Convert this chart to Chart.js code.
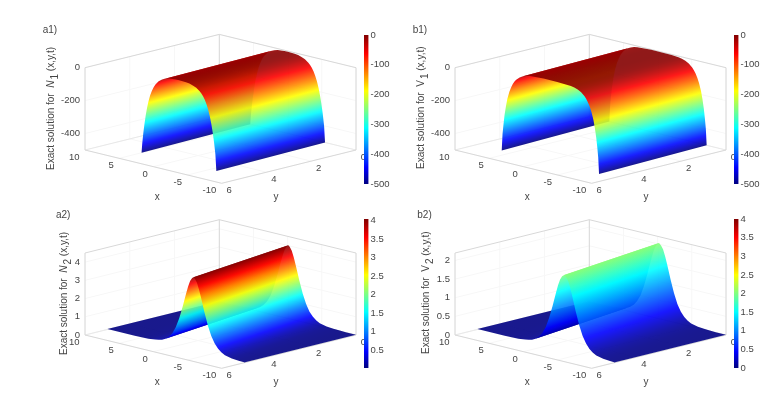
<!DOCTYPE html>
<html><head><meta charset="utf-8">
<style>html,body{margin:0;padding:0;background:#fff;width:781px;height:393px;overflow:hidden}canvas{position:absolute}</style>
<script src="https://cdn.jsdelivr.net/npm/chart.js@4"></script>
</head><body>
<script>
// ---- values ----
const xTicks = [10, 5, 0, -5, -10];
const yTicks = [6, 4, 2, 0];
const zTicksN1 = [0, -200, -400];
const zTicksN2 = [0, 1, 2, 3, 4];
const zTicksV2 = [0, 0.5, 1, 1.5, 2];
const barTicksLog = [0, -100, -200, -300, -400, -500];
const barTicksPeakN = [0.5, 1, 1.5, 2, 2.5, 3, 3.5, 4];
const barTicksPeakV = [0, 0.5, 1, 1.5, 2, 2.5, 3, 3.5, 4];

// cross-section of each surface at its near end (y = 5): x and height
const n1X = [5,4.9,4.75,4.6,4.4,4.2,4,3.75,3.5,3.25,3,2.5,2,1.5,1,.5,0,-.5,-1,-1.5,-2,-2.5,-3,-3.5,-3.75,-4,-4.25,-4.5,-4.75,-5,-5.2,-5.4,-5.6,-5.8,-5.94];
const n1Z = [-500,-442,-381,-328,-269,-220,-180,-140,-109,-85,-66,-40,-24,-15,-9,-6,-4.5,-4,-4.5,-6,-9,-15,-24,-40,-52,-66,-85,-109,-140,-180,-220,-269,-328,-400,-500];
const v1X = [6.44,6.32,6.17,6.02,5.82,5.62,5.32,5.07,4.82,4.57,4.32,3.82,3.32,2.82,2.32,1.32,.32,-.68,-1.68,-2.68,-3.68,-4.18,-4.68,-5.18,-5.68,-5.93,-6.18,-6.43,-6.68,-6.98,-7.18,-7.38,-7.53,-7.68,-7.8];
const v1Z = [-500,-400,-335,-280,-225,-180,-133,-104,-81,-63,-49,-30,-18,-11,-7,-4,-2,-2,-2,-4,-7,-11,-18,-30,-49,-63,-81,-104,-133,-180,-225,-280,-335,-400,-500];
const n2X = [10,6,4,3,2.5,2,1.5,1,.5,0,-.5,-1,-1.5,-1.8,-2.1,-2.4,-2.6,-2.8,-3.1,-3.4,-3.7,-4.2,-4.7,-5.2,-5.7,-6.2,-6.7,-7.2,-8.2,-9.2,-10,-11,-12.5];
const n2Z = [.02,.02,.04,.09,.12,.16,.26,.42,.66,1.03,1.56,2.24,3,3.42,3.76,3.95,4.02,3.95,3.76,3.42,3,2.24,1.56,1.03,.66,.42,.26,.16,.07,.04,.03,.02,.02];
const v2X = [10,6,4,3,2.5,2,1.5,1,.5,0,-.5,-1,-1.5,-1.8,-2.1,-2.4,-2.7,-3,-3.3,-3.6,-3.9,-4.4,-4.9,-5.4,-5.9,-6.4,-6.9,-7.4,-8.4,-9.4,-10,-11,-12.5];
const v2Z = [.01,.01,.02,.04,.06,.08,.13,.21,.33,.51,.78,1.12,1.5,1.71,1.88,1.98,2.03,1.98,1.88,1.71,1.5,1.12,.78,.51,.33,.21,.13,.08,.035,.02,.015,.01,.01];

// ---- layout ----
const FONT = '"Liberation Sans", Arial, sans-serif';
const TEXT = '#454545';
const panels = [
 {tag:'a1)', tagX:42.7, tagY:30, px:n1X, pz:n1Z, shift:.47, zr:[-500,0], cr:[-500,0], zt:zTicksN1, bt:barTicksLog, L:[85,150], F:[221.7,183.3], R:[356,150], H:82.3,
  bar:[363.5,4.5,35,184], lab:['N','1',' (x,y,t)',true], labX:51, labStart:170},
 {tag:'b1)', tagX:412.7, tagY:30, px:v1X, pz:v1Z, shift:.63, zr:[-500,0], cr:[-500,0], zt:zTicksN1, bt:barTicksLog, L:[455,150], F:[591.7,183.3], R:[726,150], H:82.3,
  bar:[734,4.5,35,184], lab:['V','1',' (x,y,t)',false], labX:421, labStart:169},
 {tag:'a2)', tagX:56, tagY:215, px:n2X, pz:n2Z, shift:2.5, zr:[0,4.5], cr:[.02,4.04], zt:zTicksN2, bt:barTicksPeakN, L:[85,335], F:[221.7,368.3], R:[356,335], H:82,
  bar:[363.5,4.5,219,368], lab:['N','2',' (x,y,t)',true], labX:64.3, labStart:355},
 {tag:'b2)', tagX:417.3, tagY:215.5, px:v2X, pz:v2Z, shift:2.5, zr:[0,2.2], cr:[0,4], zt:zTicksV2, bt:barTicksPeakV, L:[455,335], F:[591.7,368.3], R:[726,335], H:82,
  bar:[734,4.5,219,368], lab:['V','2',' (x,y,t)',false], labX:426, labStart:354}
];

const jetStops = [[0,0,0,.5],[.11,0,0,1],[.375,0,1,1],[.625,1,1,0],[.875,1,0,0],[1,.5,0,0]];
function jet(t, alpha){
  t = Math.max(0, Math.min(1, t));
  for (let i = 1; i < jetStops.length; i++) {
    const a = jetStops[i-1], b = jetStops[i];
    if (t <= b[0]) {
      const f = (t-a[0])/(b[0]-a[0]);
      const c = [1,2,3].map(k => Math.round(255*(a[k]+(b[k]-a[k])*f)));
      return `rgba(${c[0]},${c[1]},${c[2]},${alpha})`;
    }
  }
  return `rgba(128,0,0,${alpha})`;
}

function makeCanvas(l,t,w,h){
  const c = document.createElement('canvas');
  c.width = w; c.height = h;
  c.style.left = l+'px'; c.style.top = t+'px'; c.style.width = w+'px'; c.style.height = h+'px';
  document.body.appendChild(c);
  return c;
}

function drawPanel(p){
  const canvas = makeCanvas(0,0,781,393);
  const ctx = canvas.getContext('2d');
  const proj = (x,y,z) => {
    const a = (10-x)/20, b = (6-y)/6, h = (z-p.zr[0])/(p.zr[1]-p.zr[0]);
    return { x: p.L[0] + a*(p.F[0]-p.L[0]) + b*(p.R[0]-p.F[0]),
             y: p.L[1] + a*(p.F[1]-p.L[1]) + b*(p.R[1]-p.F[1]) - h*p.H };
  };
  const clampX = v => Math.max(-10, Math.min(10, v));
  const colorAt = z => (z-p.cr[0])/(p.cr[1]-p.cr[0]);

  // The surface is cut where its cross-section folds on screen; every part is one
  // polygon with one gradient, laid across the lines of equal height.
  const A = proj(0,5,0), B = proj(p.shift,0,0);
  const ix = B.x-A.x, iy = B.y-A.y, il = Math.hypot(ix,iy);
  const nx = -iy/il, ny = ix/il;
  const nrm = q => q.x*nx+q.y*ny;
  const ns = p.px.map((x,i) => nrm(proj(x,5,p.pz[i])));
  const runs = [];
  let start = 0, dir = 0;
  for (let i = 1; i < ns.length; i++) {
    const d = Math.sign(ns[i]-ns[i-1]) || dir;
    if (dir !== 0 && d !== dir) { runs.push([start,i-1]); start = i-1; }
    dir = d;
  }
  runs.push([start,ns.length-1]);

  const surface = runs.map(([s,e]) => {
    const near = [], far = [];
    for (let i = s; i <= e; i++) {
      near.push(proj(clampX(p.px[i]),5,p.pz[i]));
      far.unshift(proj(clampX(p.px[i]+p.shift),0,p.pz[i]));
    }
    const p0 = proj(p.px[s],5,p.pz[s]), n0 = ns[s], n1 = ns[e], span = n1-n0;
    const g = ctx.createLinearGradient(p0.x, p0.y, p0.x+nx*span, p0.y+ny*span);
    for (let i = s; i < e; i++) {
      for (let k = 0; k < 5; k++) {
        const off = (ns[i]+(ns[i+1]-ns[i])*k/5-n0)/span;
        g.addColorStop(Math.max(0,Math.min(1,off)), jet(colorAt(p.pz[i]+(p.pz[i+1]-p.pz[i])*k/5),.9));
      }
    }
    g.addColorStop(1, jet(colorAt(p.pz[e]),.9));
    return {data:near.concat(far), fill:'shape', backgroundColor:g, borderWidth:0, pointRadius:0, tension:0};
  });
  const sets = surface.reverse(); // first dataset is drawn on top

  const seg = (Q,W,color) => sets.push({data:[Q,W], fill:false, borderColor:color, borderWidth:1, pointRadius:0, tension:0});
  const [z0,z1] = p.zr;
  const box = '#d8d8d8';
  seg(proj(10,6,z0),proj(-10,6,z0),box);
  seg(proj(-10,6,z0),proj(-10,0,z0),box);
  seg(proj(10,6,z0),proj(10,6,z1),box);
  seg(proj(-10,0,z0),proj(-10,0,z1),box);
  seg(proj(10,0,z0),proj(10,0,z1),box);
  seg(proj(10,6,z1),proj(10,0,z1),box);
  seg(proj(10,0,z1),proj(-10,0,z1),box);
  seg(proj(10,6,z0),proj(10,0,z0),'#e8e8e8');
  seg(proj(10,0,z0),proj(-10,0,z0),'#e8e8e8');
  const grid = '#f7f7f7';
  xTicks.forEach(v => { seg(proj(v,6,z0),proj(v,0,z0),grid); seg(proj(v,0,z0),proj(v,0,z1),grid); });
  yTicks.forEach(v => { seg(proj(-10,v,z0),proj(10,v,z0),grid); seg(proj(10,v,z0),proj(10,v,z1),grid); });
  p.zt.forEach(v => { seg(proj(10,6,v),proj(10,0,v),grid); seg(proj(10,0,v),proj(-10,0,v),grid); });

  const textPlugin = {id:'axisText', afterDraw(chart){
    const c = chart.ctx, sx = chart.scales.x, sy = chart.scales.y;
    const at = q => [sx.getPixelForValue(q.x), sy.getPixelForValue(q.y)];
    c.save();
    c.fillStyle = TEXT; c.textBaseline = 'middle';
    c.font = '9.5px '+FONT;
    c.textAlign = 'right';
    p.zt.forEach(v => { const [X,Y] = at(proj(10,6,v)); c.fillText(String(v), X-5, Y); });
    xTicks.forEach(v => { const [X,Y] = at(proj(v,6,z0)); c.fillText(String(v), X-5.5, Y+7.5); });
    c.textAlign = 'center';
    yTicks.forEach(v => { const [X,Y] = at(proj(-10,v,z0)); c.fillText(String(v), X+7.5, Y+7.5); });
    c.font = '10px '+FONT;
    const fy = at(proj(-10,6,z0))[1];
    c.fillText('x', p.F[0]-64.4, fy+14);
    c.fillText('y', p.F[0]+54.3, fy+14);
    c.textAlign = 'left';
    c.fillText(p.tag, p.tagX, p.tagY);
    // rotated axis title
    c.translate(p.labX, p.labStart);
    c.rotate(-Math.PI/2);
    c.textBaseline = 'middle';
    let pos = 0;
    const run = (s,font,dy) => { c.font = font; c.fillText(s,pos,dy); pos += c.measureText(s).width; };
    const f = '10px '+FONT;
    run('Exact solution for  ', f, 0);
    run(p.lab[0], (p.lab[3]?'italic ':'')+f, 0);
    pos += 1;
    run(p.lab[1], f, 4);
    run(p.lab[2], f, 0);
    c.restore();
  }};

  new Chart(canvas,{
    type:'line',
    data:{datasets:sets},
    plugins:[textPlugin],
    options:{
      responsive:false, animation:false, events:[],
      layout:{padding:0},
      plugins:{legend:{display:false},tooltip:{enabled:false}},
      scales:{
        x:{type:'linear',min:0,max:781,display:false},
        y:{type:'linear',min:0,max:393,reverse:true,display:false}
      }
    }
  });

  // colour bar
  const [bl,bw,bt,bb] = p.bar;
  const pad = 7, cw = 44;
  const barCanvas = makeCanvas(bl, bt-pad, cw, bb-bt+2*pad);
  new Chart(barCanvas,{
    type:'bar',
    data:{labels:['c'],datasets:[{
      data:[[p.cr[0],p.cr[1]]],
      barPercentage:1, categoryPercentage:1, borderWidth:0,
      backgroundColor(c){
        const s = c.chart.scales.y;
        const lo = s ? s.getPixelForValue(p.cr[0]) : NaN, hi = s ? s.getPixelForValue(p.cr[1]) : NaN;
        if (!isFinite(lo) || !isFinite(hi)) return '#000';
        const g = c.chart.ctx.createLinearGradient(0,lo,0,hi);
        jetStops.forEach(st => g.addColorStop(st[0], jet(st[0],1)));
        return g;
      }
    }]},
    options:{
      responsive:false, animation:false, events:[],
      layout:{padding:{top:pad,bottom:pad,left:0,right:0}},
      plugins:{legend:{display:false},tooltip:{enabled:false}},
      scales:{
        x:{display:false},
        y:{position:'right',min:p.cr[0],max:p.cr[1],
           grid:{display:false,drawTicks:false},border:{display:false},
           afterBuildTicks(s){ s.ticks = p.bt.map(v=>({value:v})); },
           afterFit(s){ s.width = cw-bw; s.paddingTop = 0; s.paddingBottom = 0; },
           ticks:{font:{family:FONT,size:9.5},color:TEXT,padding:2,align:'center',crossAlign:'near',autoSkip:false,maxRotation:0,minRotation:0,callback:v=>String(v)}}
      }
    }
  });
}
panels.forEach(drawPanel);
</script>
</body></html>
